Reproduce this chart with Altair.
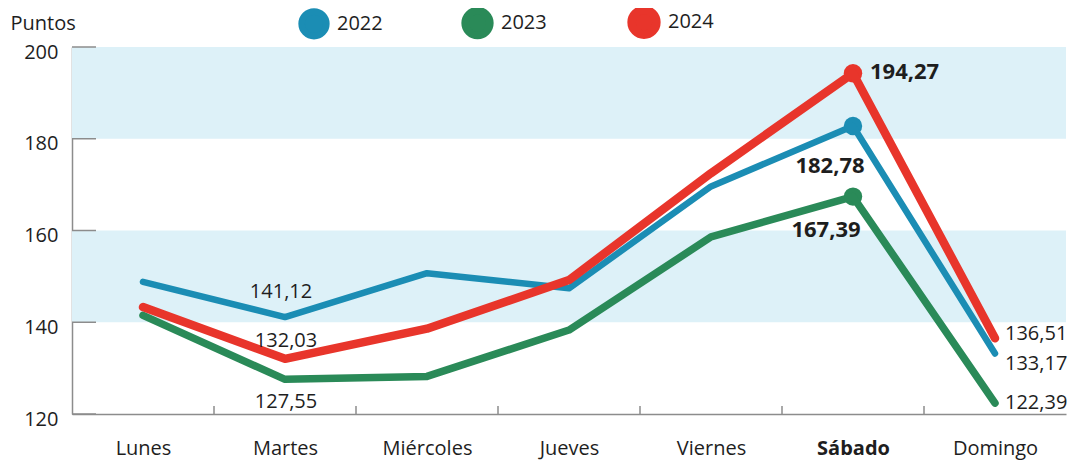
import altair as alt
import pandas as pd

days = ["Lunes", "Martes", "Miércoles", "Jueves", "Viernes", "Sábado", "Domingo"]
years = ["2022", "2023", "2024"]
v2022 = [148.8, 141.12, 150.7, 147.4, 169.6, 182.78, 133.17]
v2023 = [141.5, 127.55, 128.2, 138.3, 158.6, 167.39, 122.39]
v2024 = [143.3, 132.03, 138.6, 149.2, 172.5, 194.27, 136.51]
colors = ["#1b8db4", "#2a8a58", "#e8352b"]
y_ticks = [120, 140, 160, 180, 200]
band_lo = [140, 180]
band_hi = [160, 200]

rows = []
for yr, vals in zip(years, [v2022, v2023, v2024]):
    for d, v in zip(days, vals):
        rows.append({"day": d, "year": yr, "value": v,
                     "label": f"{v:.2f}".replace(".", ",")})
df = pd.DataFrame(rows)
bands = pd.DataFrame({"lo": band_lo, "hi": band_hi})
yt = pd.DataFrame({"value": y_ticks})
xt = pd.DataFrame({"day": days[1:]})

W, H = 994, 367
FONT = "Open Sans"
TXT = "#1e1e1e"
AXC = "#8c8c8c"

x_axis = alt.Axis(title=None, labelFontSize=20, labelFont=FONT, labelColor=TXT,
                  ticks=False, domainColor=AXC, domainWidth=1.5, labelPadding=34,
                  labelBaseline="middle", labelAngle=0, grid=False,
                  labelFontWeight=alt.condition("datum.value == 'Sábado'",
                                                alt.value("bold"), alt.value("normal")))
y_axis = alt.Axis(values=y_ticks, title="Puntos", titleAngle=0, titleAlign="left",
                  titleBaseline="middle", titleX=-62, titleY=-24, titleFontSize=20,
                  titleFont=FONT, titleFontWeight="normal", titleColor=TXT,
                  labelFontSize=20, labelFont=FONT, labelColor=TXT, labelPadding=14,
                  labelOffset=5, ticks=False, grid=False, domainColor=AXC, domainWidth=1.5)

x_scale = alt.Scale(type="point", domain=days, padding=0.5)
y_scale = alt.Scale(domain=[120, 200], nice=False, zero=False)
c_scale = alt.Scale(domain=years, range=colors)

X = alt.X("day:N", sort=days, scale=x_scale, axis=x_axis)
Y = alt.Y("value:Q", scale=y_scale, axis=y_axis)

legend = alt.Legend(orient="none", legendX=226, legendY=-42,
                    direction="horizontal", title=None,
                    symbolType="circle", symbolSize=615,
                    symbolStrokeWidth=0, symbolOpacity=1,
                    labelFontSize=20, labelFont=FONT, labelColor=TXT,
                    columnPadding=67, padding=0, labelOffset=7)
C = alt.Color("year:N", scale=c_scale, legend=legend)

band_layer = alt.Chart(bands).mark_rect(color="#ddf1f8").encode(
    x=alt.value(0), x2=alt.value(W),
    y=alt.Y("lo:Q", scale=y_scale, axis=y_axis), y2="hi:Q")

ytick_layer = alt.Chart(yt).mark_rule(color=AXC, strokeWidth=1.5).encode(
    x=alt.value(0), x2=alt.value(24), y=Y)

xtick_layer = alt.Chart(xt).mark_rule(color=AXC, strokeWidth=1.5, xOffset=-W / 7 / 2).encode(
    x=X, y=alt.value(H), y2=alt.value(H - 8))

base = alt.Chart(df)

dots = base.transform_filter("datum.day == 'Sábado'").mark_circle(size=340, opacity=1).encode(
    x=X, y=Y, color=C)

lines = base.mark_line(strokeCap="round", strokeJoin="round").encode(
    x=X, y=Y, color=C,
    strokeWidth=alt.StrokeWidth("year:N", scale=alt.Scale(domain=years, range=[6.5, 8.5, 6.5]), legend=None),
    detail="year:N")

label_specs = [
    ("2022", "Martes", "center", -4, -25, "normal", 20),
    ("2024", "Martes", "center", 1, -18, "normal", 20),
    ("2023", "Martes", "center", 1, 23, "normal", 20),
    ("2024", "Sábado", "left", 17, -1, "bold", 22),
    ("2022", "Sábado", "center", -23, 40, "bold", 22),
    ("2023", "Sábado", "center", -27, 33, "bold", 22),
    ("2024", "Domingo", "left", 10, -4, "normal", 20),
    ("2022", "Domingo", "left", 10, 10, "normal", 20),
    ("2023", "Domingo", "left", 10, 0, "normal", 20),
]
texts = []
for yr, d, al, dx, dy, fw, fs in label_specs:
    texts.append(
        base.transform_filter(f"datum.year == '{yr}' && datum.day == '{d}'")
        .mark_text(align=al, baseline="middle", dx=dx, dy=dy, fontWeight=fw,
                   fontSize=fs, font=FONT, color=TXT)
        .encode(x=X, y=Y, text="label:N"))

chart = alt.layer(band_layer, ytick_layer, xtick_layer, dots, lines, *texts).properties(
    width=W, height=H,
    autosize=alt.AutoSizeParams(type="none"),
    padding={"left": 64, "top": 39, "right": 12, "bottom": 49},
).configure_view(stroke=None)

chart.save("out.html", embed_options={"renderer": "svg", "actions": False})
